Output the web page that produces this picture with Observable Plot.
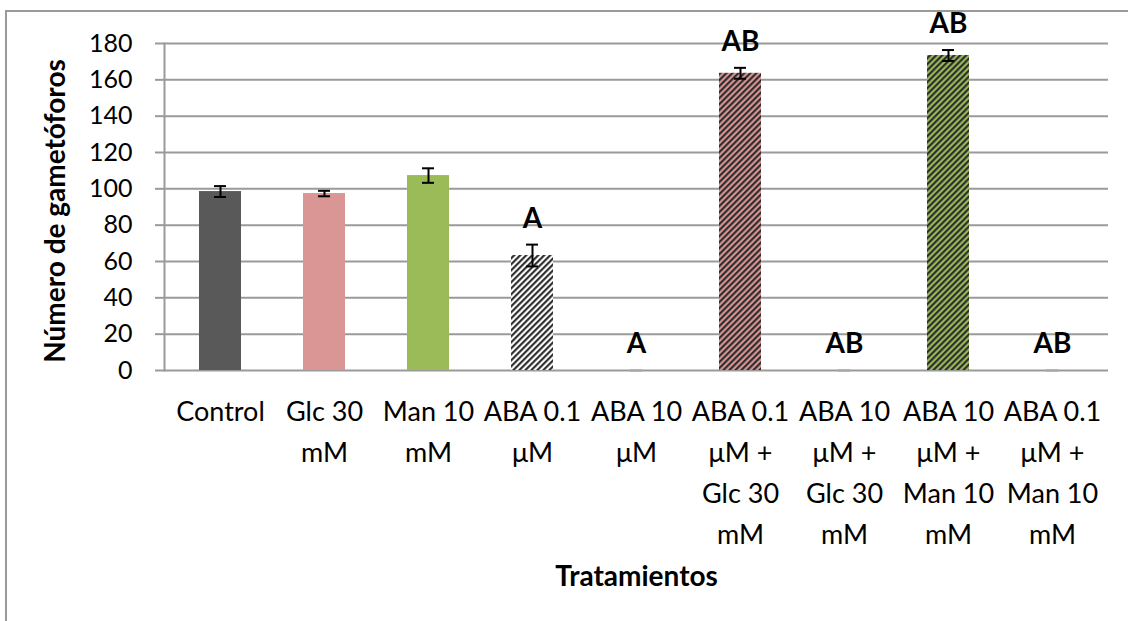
<!DOCTYPE html>
<html>
<head>
<meta charset="utf-8">
<script src="https://cdn.jsdelivr.net/npm/d3@7"></script>
<script src="https://cdn.jsdelivr.net/npm/@observablehq/plot@0.6"></script>
<style>
  html, body { margin: 0; padding: 0; background: white; overflow: hidden; }
  #wrap { position: relative; width: 1128px; height: 621px; }
  #border { position: absolute; left: 5px; top: 10px; width: 1200px; height: 700px;
            border-left: 2px solid #9a9a9a; border-top: 2px solid #9a9a9a; pointer-events: none; }
</style>
</head>
<body>
<div id="wrap"><div id="border"></div></div>
<script>
// ---- data ----
const categories = ["Control", "Glc 30 mM", "Man 10 mM", "ABA 0.1 μM", "ABA 10 μM",
  "ABA 0.1 μM + Glc 30 mM", "ABA 10 μM + Glc 30 mM", "ABA 10 μM + Man 10 mM", "ABA 0.1 μM + Man 10 mM"];
const tickLabels = ["Control", "Glc 30\nmM", "Man 10\nmM", "ABA 0.1\nμM", "ABA 10\nμM",
  "ABA 0.1\nμM +\nGlc 30\nmM", "ABA 10\nμM +\nGlc 30\nmM", "ABA 10\nμM +\nMan 10\nmM", "ABA 0.1\nμM +\nMan 10\nmM"];
const values = [98.5, 97.4, 107.3, 63.3, 0, 163.6, 0, 173.4, 0];
const errors = [3, 1.5, 4, 6, 0, 3, 0, 3, 0];
const letters = ["", "", "", "A", "A", "AB", "AB", "AB", "AB"];
const yTicks = [0, 20, 40, 60, 80, 100, 120, 140, 160, 180];
const yTitle = "Número de gametóforos";
const xTitle = "Tratamientos";

// ---- styles (kept apart from data) ----
const fills = ["#595959", "#d99694", "#9bbb59", "url(#hatchW)", "url(#hatchW)",
  "url(#hatchP)", "url(#hatchP)", "url(#hatchG)", "url(#hatchG)"];

const rows = categories.map((c, i) => ({
  cat: c, label: tickLabels[i], v: values[i], e: errors[i], letter: letters[i], fill: fills[i]
}));
const labelOf = new Map(rows.map(d => [d.cat, d.label]));

const chart = Plot.plot({
  width: 1128,
  height: 621,
  marginLeft: 164,
  marginRight: 20,
  marginTop: 43,
  marginBottom: 251,
  style: { fontFamily: "Lato, 'Open Sans', sans-serif", fontSize: "25px", color: "black", background: "transparent", overflow: "visible" },
  x: { domain: categories, paddingInner: 0.6, paddingOuter: 0.3, label: null },
  y: { domain: [0, 180], label: null },
  color: { type: "identity" },
  marks: [
    Plot.gridY(yTicks, { stroke: "#9a9a9a", strokeOpacity: 1, strokeWidth: 2 }),
    Plot.frame({ anchor: "left", stroke: "#9a9a9a", strokeWidth: 2 }),
    Plot.axisY({ ticks: yTicks, tickSize: 9, tickPadding: 23, stroke: "#9a9a9a", strokeWidth: 2, fill: "black", fontSize: 25, label: null }),
    Plot.axisX({ tickSize: 0, tickPadding: 21, fontSize: 27, fill: "black", lineHeight: 1.52,
                 tickFormat: d => labelOf.get(d), label: null }),
    Plot.barY(rows, { x: "cat", y: "v", fill: "fill" }),
    Plot.ruleX(rows.filter(d => d.e > 0), { x: "cat", y1: d => d.v - d.e, y2: d => d.v + d.e, stroke: "black", strokeWidth: 2 }),
    Plot.tickY(rows, { x: "cat", y: d => d.v + d.e, stroke: d => d.e > 0 ? "black" : "#aaaaaa", strokeWidth: 2, insetLeft: 15, insetRight: 15 }),
    Plot.tickY(rows, { x: "cat", y: d => d.v - d.e, stroke: d => d.e > 0 ? "black" : "#aaaaaa", strokeWidth: 2, insetLeft: 15, insetRight: 15 }),
    Plot.text(rows.filter(d => d.letter), { x: "cat", y: d => d.v + d.e, text: "letter", dy: -26,
      lineAnchor: "middle", fontWeight: "bold", fontSize: 28, fill: "black" }),
    Plot.text([xTitle], { text: d => d, frameAnchor: "bottom", dy: 207, lineAnchor: "middle",
      fontWeight: "bold", fontSize: 28, fill: "black" }),
    Plot.text([yTitle], { text: d => d, frameAnchor: "left", dx: -108, dy: 4, rotate: -90, lineAnchor: "middle",
      textAnchor: "middle", fontWeight: "bold", fontSize: 28, fill: "black" })
  ]
});

// hatch patterns
const defs = d3.select(chart).insert("defs", ":first-child");
function hatch(id, bg) {
  const s = 6 / Math.SQRT2;
  const p = defs.append("pattern").attr("id", id).attr("patternUnits", "userSpaceOnUse")
    .attr("width", s).attr("height", s).attr("patternTransform", "rotate(45)");
  p.append("rect").attr("width", s).attr("height", s).attr("fill", bg);
  p.append("rect").attr("x", 0).attr("width", s / 2).attr("height", s).attr("fill", "#2a2a2a");
}
hatch("hatchW", "#ffffff");
hatch("hatchP", "#d99694");
hatch("hatchG", "#9bbb59");

document.getElementById("wrap").prepend(chart);
chart.style.position = "absolute";
chart.style.left = "0";
chart.style.top = "0";
</script>
</body>
</html>
